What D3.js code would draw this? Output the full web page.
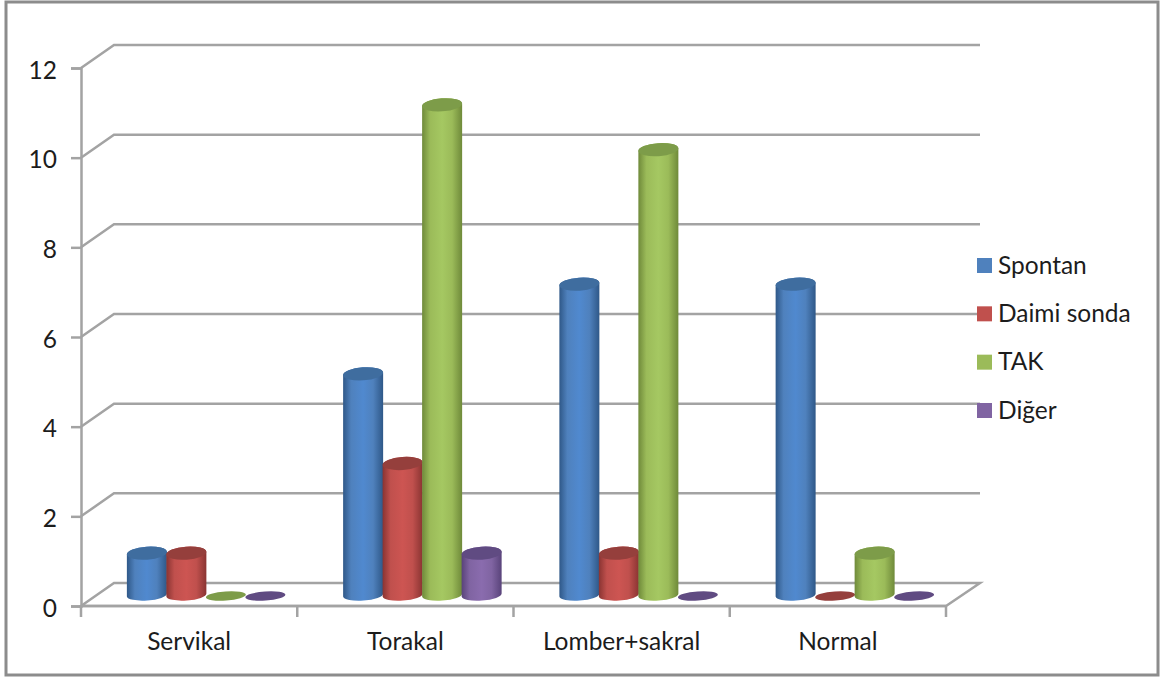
<!DOCTYPE html>
<html>
<head>
<meta charset="utf-8">
<script src="https://cdn.jsdelivr.net/npm/d3@7/dist/d3.min.js"></script>
<style>
html,body{margin:0;padding:0;background:#fff}
svg{display:block}
text{font-family:Lato,"Open Sans",sans-serif;fill:#1c1c1c}
</style>
</head>
<body>
<svg id="chart" width="1168" height="679"></svg>
<script>
// Urination method by lesion level
const categories = ["Servikal", "Torakal", "Lomber+sakral", "Normal"];
const seriesNames = ["Spontan", "Daimi sonda", "TAK", "Diğer"];
const spontan = [1, 5, 7, 7];
const daimiSonda = [1, 3, 1, 0];
const tak = [0, 11, 10, 1];
const diger = [0, 1, 0, 0];
const seriesValues = [spontan, daimiSonda, tak, diger];
const yTicks = [0, 2, 4, 6, 8, 10, 12];
const baseColors = ["#4f81bd", "#c0504d", "#9bbb59", "#8064a2"];
const edgeColors = ["#2f5888", "#8a3432", "#6f8a3a", "#59437a"];
const midColors = ["#5089cf", "#cd5552", "#a5c862", "#8a6cae"];
const capColors = ["#3f6d9f", "#953f3c", "#7d9c49", "#604b82"];

const svg = d3.select("#chart");
const gridColor = "#a3a3a3";
const fontSize = "24.5px";
const depthX = 33, depthY = 23;
const floorLift = 10, topLift = 8, bottomLift = 11, rot = -4;

const y = d3.scaleLinear().domain([0, 12]).range([606, 68]);
const x = d3.scaleBand().domain(categories).range([81, 946]);
const inner = d3.scaleBand().domain(seriesNames).range([0, 158]);
const groupInset = (x.bandwidth() - 158) / 2 + 17;

// Chart frame
svg.append("rect").attr("x", 6).attr("y", 2).attr("width", 1152).attr("height", 673)
  .attr("fill", "#fff").attr("stroke", "#8c8c8c").attr("stroke-width", 3);

// Back wall gridlines with their diagonal return to the front axis
const grid = svg.append("g").attr("fill", "none").attr("stroke", gridColor).attr("stroke-width", 2.5);
grid.selectAll("path").data(yTicks.filter(t => t > 0)).join("path")
  .attr("d", t => `M${x.range()[0]},${y(t)}L${x.range()[0] + depthX},${y(t) - depthY}L${x.range()[1] + depthX + 1},${y(t) - depthY}`);
// Floor
grid.append("path")
  .attr("d", `M${x.range()[0]},${y(0)}L${x.range()[0] + depthX},${y(0) - depthY}L${x.range()[1] + depthX + 1},${y(0) - depthY}L${x.range()[1]},${y(0)}Z`);

// Value axis
const yAxis = svg.append("g").attr("transform", `translate(${x.range()[0]},0)`)
  .call(d3.axisLeft(y).tickValues(yTicks).tickSize(10).tickPadding(14).tickFormat(d3.format("d")));
yAxis.select(".domain").attr("stroke", gridColor).attr("stroke-width", 2.5);
yAxis.selectAll("line").attr("stroke", gridColor).attr("stroke-width", 2.5);
yAxis.selectAll("text").style("font-size", fontSize).attr("dy", "0.42em").attr("fill", "#1c1c1c");
yAxis.attr("font-family", null);

// Category axis: ticks on the band edges, labels in the band centres
const xAxis = svg.append("g");
xAxis.append("line").attr("x1", x.range()[0]).attr("x2", x.range()[1])
  .attr("y1", y(0)).attr("y2", y(0)).attr("stroke", gridColor).attr("stroke-width", 2.5);
const edges = categories.map(c => x(c)).concat(x.range()[1]);
xAxis.selectAll("line.edge").data(edges).join("line").attr("class", "edge")
  .attr("x1", d => d).attr("x2", d => d).attr("y1", y(0)).attr("y2", y(0) + 11)
  .attr("stroke", gridColor).attr("stroke-width", 2.5);
xAxis.selectAll("text").data(categories).join("text")
  .attr("x", c => x(c) + x.bandwidth() / 2).attr("y", 650)
  .attr("text-anchor", "middle").style("font-size", fontSize).text(c => c);

// Cylinder side shading
const defs = svg.append("defs");
seriesNames.forEach((s, i) => {
  const g = defs.append("linearGradient").attr("id", "cyl" + i);
  [[0, edgeColors[i]], [0.2, baseColors[i]], [0.5, midColors[i]], [0.75, baseColors[i]], [1, edgeColors[i]]]
    .forEach(([o, c]) => g.append("stop").attr("offset", o).attr("stop-color", c));
});

// Cylinders, drawn series by series so later ones overlap earlier ones
const rx = 20, ry = 6.5, baseRy = 5.5, flatRy = 4.5;
const sinR = Math.sin(-rot * Math.PI / 180) * rx;
const bars = svg.append("g");
seriesNames.forEach((s, si) => {
  categories.forEach((c, ci) => {
    const v = seriesValues[si][ci];
    const cx = x(c) + groupInset + inner(s) + inner.bandwidth() / 2;
    if (v === 0) {
      const flat = y(0) - floorLift;
      bars.append("ellipse").attr("cx", cx).attr("cy", flat).attr("rx", rx).attr("ry", flatRy)
        .attr("transform", `rotate(${rot} ${cx} ${flat})`).attr("fill", capColors[si]);
      return;
    }
    const bottom = y(0) - bottomLift;
    const top = y(v) - topLift;
    bars.append("path")
      .attr("d", `M${cx - rx},${top + sinR}L${cx - rx},${bottom + sinR}` +
        `A${rx},${baseRy} ${rot} 0 0 ${cx + rx},${bottom - sinR}L${cx + rx},${top - sinR}` +
        `A${rx},${ry} ${rot} 0 0 ${cx - rx},${top + sinR}Z`)
      .attr("fill", `url(#cyl${si})`);
    bars.append("ellipse").attr("cx", cx).attr("cy", top).attr("rx", rx).attr("ry", ry)
      .attr("transform", `rotate(${rot} ${cx} ${top})`).attr("fill", capColors[si]);
  });
});

// Legend, aligned with the back wall gridlines
const legendY = d3.scalePoint().domain(seriesNames).range([265.5, 410.5]);
const legend = svg.append("g").selectAll("g").data(seriesNames).join("g")
  .attr("transform", s => `translate(977,${legendY(s)})`);
legend.append("rect").attr("x", 0).attr("y", -7.5).attr("width", 15).attr("height", 15)
  .attr("fill", (s, i) => baseColors[i]);
legend.append("text").attr("x", 21).attr("y", 8).style("font-size", fontSize).text(s => s);
</script>
</body>
</html>
